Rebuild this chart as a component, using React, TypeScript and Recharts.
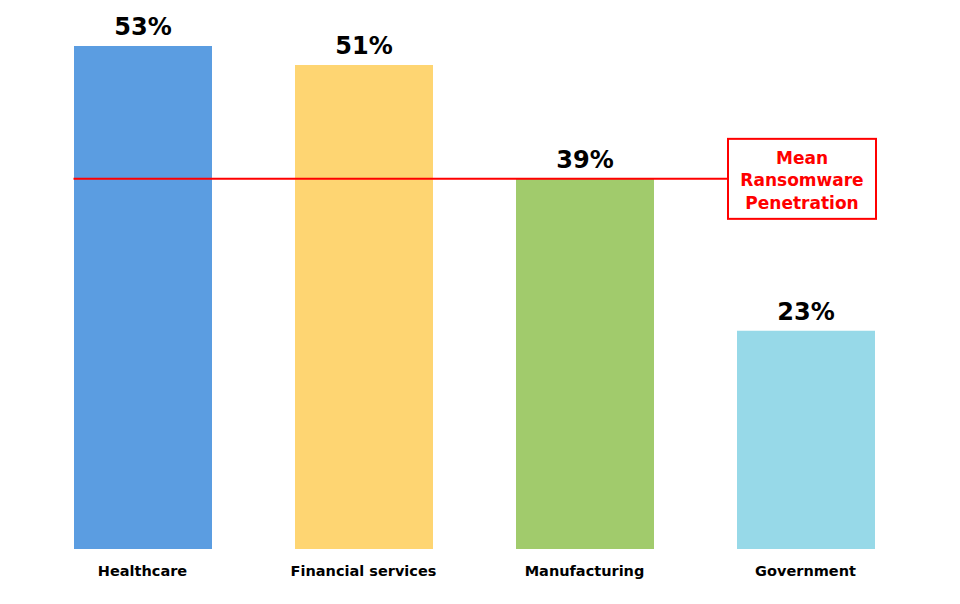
import React from 'react';
import { BarChart, Bar, XAxis, YAxis, Cell, LabelList, ReferenceLine } from 'recharts';

const sectors = ['Healthcare', 'Financial services', 'Manufacturing', 'Government'];
const penetration = [53, 51, 39, 23];
const barColors = ['#5B9DE1', '#FED572', '#A1CB6C', '#97D9E8'];
const meanPenetration = 39;
const meanLabel = ['Mean', 'Ransomware', 'Penetration'];

const data = sectors.map((name, i) => ({ name, value: penetration[i] }));

const BAR_SIZE = 138;
const FONT = '"DejaVu Sans", Verdana, sans-serif';

// mean line starts at the left edge of the first bar and ends at the label box
const MeanLine = (props: any) => {
  const { x1, x2, y1 } = props;
  const band = (x2 - x1) / sectors.length;
  const startX = x1 + (band - BAR_SIZE) / 2;
  const boxW = 148;
  const boxH = 80;
  const boxX = x2 - 188;
  return (
    <g>
      <line x1={startX} x2={boxX} y1={y1} y2={y1} stroke="#FF0000" strokeWidth={2} />
      <rect x={boxX} y={y1 - boxH / 2} width={boxW} height={boxH} fill="#fff" stroke="#FF0000" strokeWidth={2} />
      {meanLabel.map((t, i) => (
        <text
          key={t}
          x={boxX + boxW / 2}
          y={y1 - 15 + i * 22.5}
          textAnchor="middle"
          fill="#FF0000"
          fontFamily={FONT}
          fontWeight="bold"
          fontSize={17}
        >
          {t}
        </text>
      ))}
    </g>
  );
};

const App: React.FC = () => {
  return (
    <div style={{ position: 'absolute', left: 0, top: 0, background: '#fff' }}>
      <BarChart width={960} height={604} data={data} margin={{ top: 27, right: 44, left: 32, bottom: 25 }}>
        <XAxis
          dataKey="name"
          axisLine={false}
          tickLine={false}
          height={30}
          tick={{ fill: '#000', fontSize: 14.5, fontWeight: 'bold', fontFamily: FONT }}
          tickMargin={11}
        />
        <YAxis hide domain={[0, 55]} />
        <Bar dataKey="value" barSize={BAR_SIZE} isAnimationActive={false}>
          {data.map((d, i) => (
            <Cell key={d.name} fill={barColors[i]} />
          ))}
          <LabelList
            dataKey="value"
            position="top"
            offset={11}
            formatter={(v: any) => `${v}%`}
            style={{ fill: '#000', fontSize: 24, fontWeight: 'bold', fontFamily: FONT }}
          />
        </Bar>
        <ReferenceLine y={meanPenetration} shape={MeanLine} />
      </BarChart>
    </div>
  );
};

export default App;
